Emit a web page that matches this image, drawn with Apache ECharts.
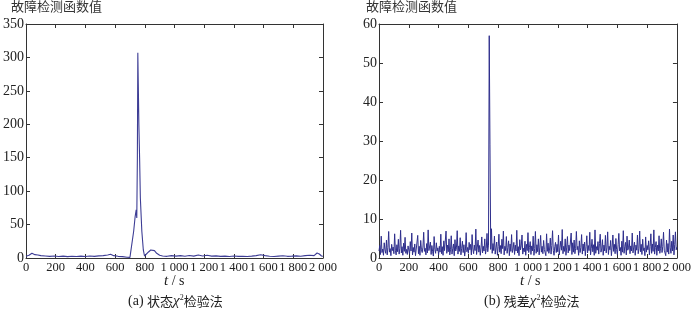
<!DOCTYPE html>
<html><head><meta charset="utf-8">
<script src="https://cdn.jsdelivr.net/npm/echarts@6/dist/echarts.min.js"></script>
<style>html,body{margin:0;padding:0;background:#fff}#c{width:694px;height:313px}</style>
</head><body><div id="c"></div>
<script>
// Left panel (a): state chi-square test, [t, value]
const stateTimes = [0,20,40,60,80,100,130,160,190,220,250,280,310,340,370,400,430,460,490,520,550,570,590,620,650,680,700,710,725,735,742,746,750,753,756,760,765,770,780,790,798,810,825,840,851,865,880,900,920,950,980,1010,1040,1070,1100,1130,1160,1190,1220,1250,1280,1310,1340,1370,1400,1430,1460,1490,1520,1550,1580,1610,1640,1670,1700,1730,1760,1790,1820,1850,1880,1910,1940,1960,1975,1990,2000];
const stateValues = [2.5,4,7,5,4.5,3.5,3,2.5,3,2.2,2.8,2,2.6,2.2,2.8,2.3,3,2.5,3.2,3.6,4.5,5.5,3.5,2.5,2,1.2,1,2,40,62,72,60,150,307,262,200,150,90,40,12,3,4,9,12,14,11,7,4,3,2.5,3.5,2.8,3.5,2.5,3.8,2.8,4.5,3,4,2.8,3.2,2.5,2.8,2.2,3,2.4,2.6,2.2,2.8,3.5,4.8,3.5,2.6,2.2,2.8,3.3,2.5,2.8,3.2,2.6,3.5,4.2,3.5,7.5,6,3,2.5];
// Right panel (b): residual chi-square test, sampled every 5 s from t = 0
const residualStep = 5;
const residualValues = [
1.8,3.2,0.9,5.6,1.4,2.3,0.7,3.9,2.1,1.2,4.6,0.8,2.7,6.8,1.5,2.4,0.6,3.5,1.9,2.8,
1.1,6.2,2.0,0.8,3.4,1.6,4.8,1.0,2.5,7.1,1.3,2.9,0.7,3.8,1.7,5.3,1.2,2.2,0.9,3.1,
2.6,1.0,4.2,1.8,6.4,0.8,2.7,1.5,3.6,0.6,2.3,1.9,5.8,1.1,3.0,0.7,4.5,2.1,1.4,2.8,
6.6,1.7,2.5,0.8,3.7,1.3,7.2,1.9,2.4,4.1,0.9,3.2,1.6,0.5,5.5,2.2,1.2,3.9,1.8,2.6,
0.8,3.0,1.5,6.1,1.1,2.9,0.7,4.4,1.9,2.3,6.9,1.2,3.3,1.6,4.9,0.8,2.1,5.7,1.0,2.4,
3.6,0.6,4.7,1.8,2.6,7.0,1.0,3.1,1.7,5.2,0.8,2.5,4.3,1.4,3.4,0.5,2.0,6.5,1.6,2.7,
1.2,4.0,2.1,3.5,0.8,6.0,2.3,1.1,3.3,1.9,7.4,0.9,2.8,4.6,1.5,3.2,0.7,2.6,5.4,1.3,
3.0,1.8,4.9,1.0,2.4,6.3,1.6,3.3,57.0,29.0,2.2,7.5,1.2,3.7,1.9,5.6,1.0,2.6,4.1,0.7,
2.9,6.1,1.5,3.2,1.1,4.8,2.4,6.9,0.8,3.0,1.9,5.5,1.2,2.7,4.4,0.6,3.6,1.7,6.0,1.4,
2.3,4.0,0.9,3.3,1.8,7.1,1.3,2.9,0.6,4.7,2.1,3.1,5.9,1.0,2.5,1.6,4.3,0.7,3.5,1.9,
6.5,1.4,2.7,4.2,0.9,3.1,1.8,5.6,0.7,2.4,6.8,1.2,3.4,1.6,4.9,0.8,2.8,5.8,1.5,3.0,
1.1,4.5,2.2,2.7,0.6,6.2,1.7,3.8,1.2,2.3,5.1,1.0,3.2,7.0,1.9,0.7,2.9,4.0,1.4,3.5,
1.6,5.9,0.8,2.6,4.3,2.0,7.3,1.1,3.0,1.7,4.9,0.7,2.8,5.5,1.3,3.3,1.9,2.4,6.4,0.9,
3.9,1.5,4.6,1.1,2.5,6.8,2.1,3.0,0.7,4.4,1.4,2.7,6.0,1.0,3.6,1.8,4.1,0.6,2.9,5.7,
1.3,3.2,1.9,6.6,0.8,2.5,4.8,1.6,3.4,0.7,7.2,1.2,2.9,2.0,4.2,1.0,3.7,6.1,1.5,2.3,
4.7,0.7,3.3,1.8,5.8,1.3,2.6,6.7,0.9,3.0,2.1,4.5,0.6,2.8,5.9,1.7,3.5,1.1,5.0,2.2,
0.9,3.4,6.3,1.8,2.7,0.7,4.3,1.5,7.0,1.2,2.9,4.0,0.8,5.6,2.0,2.6,4.6,1.1,3.1,1.8,
6.4,1.3,2.8,4.1,0.7,3.3,2.0,5.9,1.1,2.4,6.9,1.6,3.5,0.9,4.8,1.9,2.6,0.6,5.4,1.5,
3.2,2.1,4.4,0.8,2.9,6.2,1.2,3.6,1.7,7.2,1.0,2.7,4.2,0.7,3.3,1.8,5.7,1.2,2.5,4.9,
1.4,3.0,6.6,2.0,2.3,0.6,4.6,1.5,3.7,1.0,7.4,2.6,1.2,4.3,1.8,5.9,0.8,3.4,6.7,2.1,
2.8];
const xTicks = [0,200,400,600,800,1000,1200,1400,1600,1800,2000];
const yAxisTitle = '故障检测函数值';
const xAxisTitle = '{i|t}{n| / s}';
const captions = ['{n|(a) }{c|状态}{i|χ}{s|2}{c|检验法}', '{n|(b) }{c|残差}{i|χ}{s|2}{c|检验法}'];

const stateData = stateTimes.map((t, i) => [t, stateValues[i]]);
const residualData = residualValues.map((v, i) => [i * residualStep, v]);

const SERIF = 'Liberation Serif';
const CJK = 'Noto Sans CJK SC';
const fmt = v => v >= 1000 ? Math.floor(v / 1000) + ' ' + String(v % 1000).padStart(3, '0') : String(v);
const axisColor = '#333';

function xAxes(gi) {
  const base = { type: 'value', min: xTicks[0], max: xTicks[xTicks.length - 1], interval: xTicks[1] - xTicks[0], gridIndex: gi, splitLine: { show: false },
    axisLine: { show: true, onZero: false, lineStyle: { color: axisColor, width: 1 } },
    axisTick: { show: true, inside: true, length: 4, lineStyle: { color: axisColor } } };
  return [
    Object.assign({}, base, { position: 'bottom', axisLabel: { show: true, formatter: fmt, color: '#222', fontFamily: SERIF, fontSize: 12.5, margin: 3,
      showMinLabel: true, showMaxLabel: true, hideOverlap: false, interval: 0 } }),
    Object.assign({}, base, { position: 'top', axisLabel: { show: false } })
  ];
}
function yAxes(gi, max, interval) {
  const base = { type: 'value', min: 0, max: max, interval: interval, gridIndex: gi, splitLine: { show: false },
    axisLine: { show: true, onZero: false, lineStyle: { color: axisColor, width: 1 } },
    axisTick: { show: true, inside: true, length: 4, lineStyle: { color: axisColor } } };
  return [
    Object.assign({}, base, { position: 'left', axisLabel: { show: true, color: '#222', fontFamily: SERIF, fontSize: 14, margin: 2 } }),
    Object.assign({}, base, { position: 'right', axisLabel: { show: false } })
  ];
}

const rich = {
  i: { fontStyle: 'italic', fontFamily: SERIF, fontSize: 15, fill: '#222' },
  s: { fontSize: 8, verticalAlign: 'top', fontFamily: SERIF, fill: '#222', padding: [0, 0, 6, 0] },
  c: { fontFamily: CJK, fontSize: 13, fill: '#222' },
  n: { fontFamily: SERIF, fontSize: 14, fill: '#222' }
};

const chart = echarts.init(document.getElementById('c'), null, { renderer: 'canvas' });
chart.setOption({
  animation: false,
  backgroundColor: '#fff',
  textStyle: { fontFamily: SERIF },
  grid: [
    { left: 23, top: 24, width: 300, height: 234 },
    { left: 379, top: 24, width: 299, height: 234 }
  ],
  xAxis: [...xAxes(0), ...xAxes(1)],
  yAxis: [...yAxes(0, 350, 50), ...yAxes(1, 60, 10)],
  series: [
    { type: 'line', xAxisIndex: 0, yAxisIndex: 0, data: stateData, showSymbol: false, symbol: 'none',
      lineStyle: { color: '#3d3d95', width: 1.1 } },
    { type: 'line', xAxisIndex: 2, yAxisIndex: 2, data: residualData, showSymbol: false, symbol: 'none',
      lineStyle: { color: '#2e2e8c', width: 1 } }
  ],
  graphic: [
    { type: 'text', left: 11, top: 0, style: { text: yAxisTitle, fontFamily: CJK, fontSize: 13, fill: '#333' } },
    { type: 'text', left: 366, top: 0, style: { text: yAxisTitle, fontFamily: CJK, fontSize: 13, fill: '#333' } },
    { type: 'text', left: 164, top: 274, style: { text: xAxisTitle, fontFamily: SERIF, fontSize: 14, fill: '#222', rich: rich } },
    { type: 'text', left: 520, top: 274, style: { text: xAxisTitle, fontFamily: SERIF, fontSize: 14, fill: '#222', rich: rich } },
    { type: 'text', left: 128, top: 294, style: { text: captions[0], fontFamily: SERIF, fontSize: 13, fill: '#222', rich: rich } },
    { type: 'text', left: 484, top: 294, style: { text: captions[1], fontFamily: SERIF, fontSize: 13, fill: '#222', rich: rich } }
  ]
});
</script></body></html>
